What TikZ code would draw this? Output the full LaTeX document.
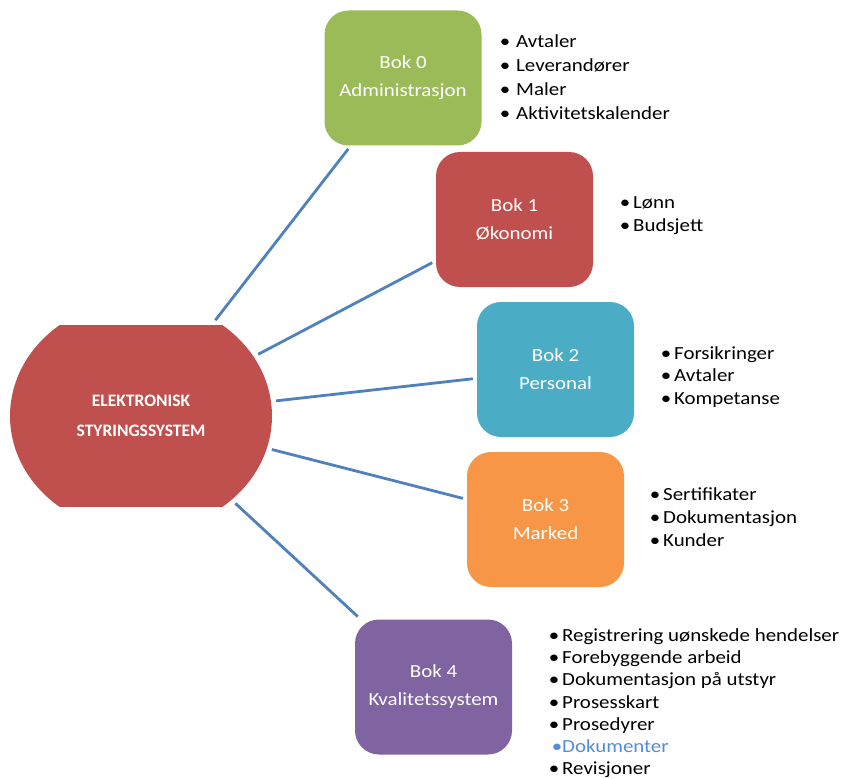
\documentclass[tikz,border=0pt]{standalone}
\usepackage{fontspec}
\setmainfont{Carlito}[FakeStretch=1.13]
\newfontfamily\hubfont{Carlito}
\usetikzlibrary{shapes.geometric}
\usetikzlibrary{positioning}

\definecolor{bokgreen}{HTML}{9BBB59}
\definecolor{bokred}{HTML}{C0504D}
\definecolor{bokteal}{HTML}{4BACC6}
\definecolor{bokorange}{HTML}{F79646}
\definecolor{bokpurple}{HTML}{8064A2}
\definecolor{linkblue}{HTML}{4F81BD}
\definecolor{dokblue}{HTML}{548DD4}

\tikzset{
    bok/.style={rounded corners=24pt, minimum width=157pt, minimum height=135pt,
        inner sep=0pt, align=center, text=white,
        font=\fontsize{18.5}{28}\selectfont},
    punkt/.style={anchor=base west, inner sep=0pt,
        font=\fontsize{18.5}{22}\selectfont},
    link/.style={draw=linkblue, line width=2.8pt, shorten <=5pt, shorten >=4pt},
}
\newcommand{\pkt}[1]{\llap{\textbullet\hspace{#1}}}

\begin{document}
\begin{tikzpicture}[x=1pt,y=-1pt]
    \useasboundingbox (0,0) rectangle (850,778);
    % hub: ellipse cut flat at top and bottom
    \begin{scope}
        \clip (0,325) rectangle (300,506);
        \fill[bokred] (141,416) ellipse [x radius=131pt, y radius=116pt];
    \end{scope}
    \node[ellipse, minimum width=262pt, minimum height=232pt, inner sep=0pt,
        align=center, text=white, font=\hubfont\bfseries\fontsize{17.5}{30}\selectfont]
        (hub) at (141,416) {ELEKTRONISK\\STYRINGSSYSTEM};

    \node[bok, fill=bokgreen]  (bok0) at (403,78)    {Bok 0\\Administrasjon};
    \node[bok, fill=bokred]    (bok1) at (514.5,219.5) {Bok 1\\Økonomi};
    \node[bok, fill=bokteal]   (bok2) at (555.5,369.5) {Bok 2\\Personal};
    \node[bok, fill=bokorange] (bok3) at (545.5,519.5) {Bok 3\\Marked};
    \node[bok, fill=bokpurple] (bok4) at (433.5,687)   {Bok 4\\Kvalitetssystem};

    \draw[link, shorten <=0pt] (hub) -- (bok0);
    \foreach \b in {1,...,4}
        \draw[link] (hub) -- (bok\b);

    % bullet lists
    \foreach \t [count=\i from 0] in {Avtaler,Leverandører,Maler,Aktivitetskalender}
        \node[punkt] (a\i) at (516,{48+23.8*\i}) {\pkt{6pt}\t};
    \foreach \t [count=\i from 0] in {Lønn,Budsjett}
        \node[punkt] (b\i) at (633,{208+23.5*\i}) {\pkt{3pt}\t};
    \foreach \t [count=\i from 0] in {Forsikringer,Avtaler,Kompetanse}
        \node[punkt] (c\i) at (674,{359+22.7*\i}) {\pkt{3pt}\t};
    \foreach \t [count=\i from 0] in {Sertifikater,Dokumentasjon,Kunder}
        \node[punkt] (d\i) at (663,{500+23*\i}) {\pkt{3pt}\t};
    \foreach \t/\farge/\gap [count=\i from 0] in {Registrering uønskede hendelser/black/3pt,
            Forebyggende arbeid/black/3pt, Dokumentasjon på utstyr/black/3pt,
            Prosesskart/black/3pt, Prosedyrer/black/3pt, Dokumenter/dokblue/0pt,
            Revisjoner/black/3pt}
        \node[punkt, text=\farge] (e\i) at (562,{641.5+22.2*\i}) {\pkt{\gap}\t};
\end{tikzpicture}
\end{document}
